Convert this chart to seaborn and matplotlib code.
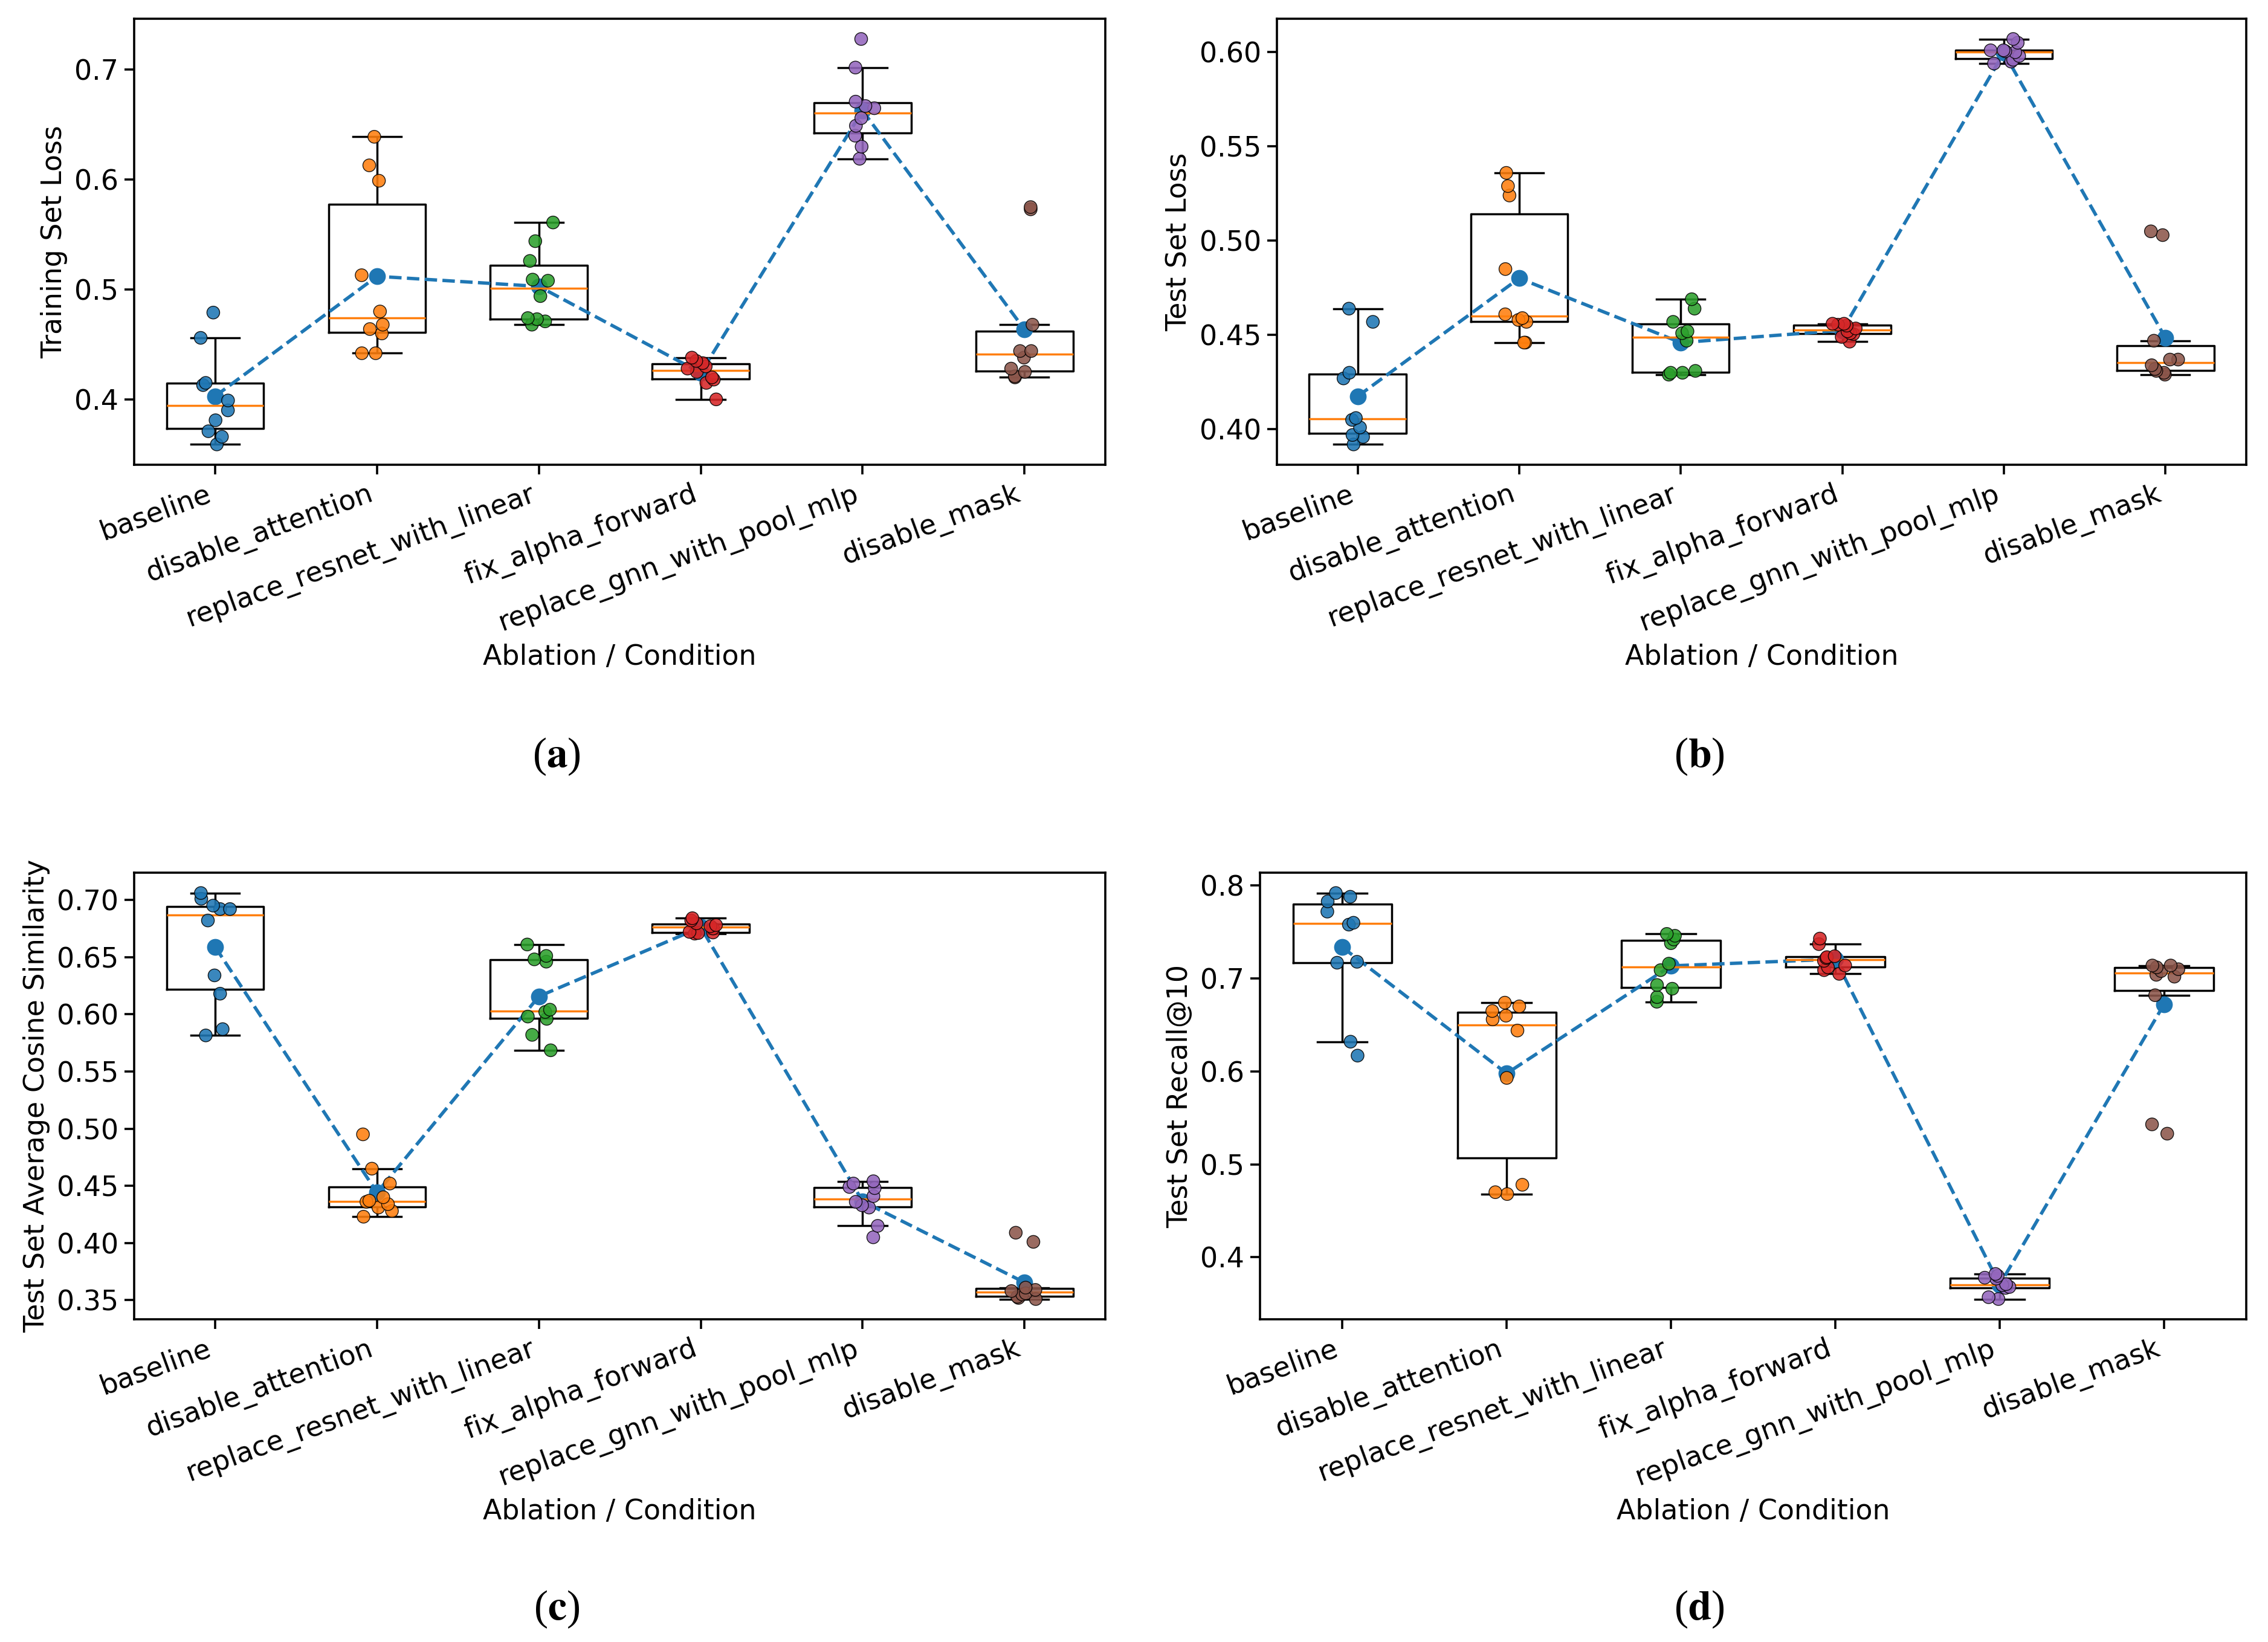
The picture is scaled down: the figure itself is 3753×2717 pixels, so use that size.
import numpy as np
import pandas as pd
import seaborn as sns
import matplotlib.pyplot as plt

conditions = ["baseline", "disable_attention", "replace_resnet_with_linear",
              "fix_alpha_forward", "replace_gnn_with_pool_mlp", "disable_mask"]

# one list per condition (10 runs each)
train_loss = [
    [0.359, 0.366, 0.371, 0.381, 0.390, 0.399, 0.413, 0.415, 0.456, 0.479],
    [0.442, 0.442, 0.460, 0.464, 0.468, 0.480, 0.513, 0.599, 0.613, 0.639],
    [0.468, 0.471, 0.473, 0.474, 0.494, 0.508, 0.509, 0.526, 0.544, 0.561],
    [0.400, 0.415, 0.418, 0.420, 0.425, 0.428, 0.430, 0.433, 0.435, 0.438],
    [0.619, 0.630, 0.640, 0.649, 0.656, 0.665, 0.667, 0.671, 0.702, 0.728],
    [0.420, 0.421, 0.425, 0.428, 0.438, 0.444, 0.444, 0.468, 0.573, 0.575],
]
test_loss = [
    [0.392, 0.396, 0.397, 0.401, 0.405, 0.406, 0.427, 0.430, 0.457, 0.464],
    [0.446, 0.446, 0.457, 0.458, 0.459, 0.461, 0.485, 0.524, 0.529, 0.536],
    [0.429, 0.430, 0.430, 0.431, 0.447, 0.451, 0.452, 0.457, 0.464, 0.469],
    [0.4465, 0.449, 0.4505, 0.451, 0.452, 0.4535, 0.455, 0.4555, 0.456, 0.456],
    [0.594, 0.595, 0.596, 0.598, 0.600, 0.6005, 0.601, 0.601, 0.605, 0.607],
    [0.429, 0.430, 0.431, 0.432, 0.434, 0.437, 0.437, 0.447, 0.503, 0.505],
]
cos_sim = [
    [0.5815, 0.587, 0.618, 0.634, 0.682, 0.692, 0.692, 0.695, 0.701, 0.706],
    [0.423, 0.428, 0.431, 0.434, 0.436, 0.437, 0.440, 0.452, 0.465, 0.495],
    [0.5685, 0.582, 0.596, 0.598, 0.602, 0.604, 0.646, 0.648, 0.651, 0.661],
    [0.6705, 0.671, 0.6715, 0.672, 0.675, 0.677, 0.678, 0.6795, 0.682, 0.684],
    [0.405, 0.415, 0.431, 0.433, 0.436, 0.441, 0.448, 0.449, 0.452, 0.454],
    [0.351, 0.352, 0.353, 0.355, 0.356, 0.358, 0.359, 0.361, 0.401, 0.409],
]
recall10 = [
    [0.617, 0.632, 0.717, 0.718, 0.758, 0.760, 0.772, 0.783, 0.788, 0.792],
    [0.468, 0.470, 0.478, 0.593, 0.644, 0.656, 0.660, 0.665, 0.670, 0.674],
    [0.675, 0.680, 0.689, 0.693, 0.709, 0.716, 0.738, 0.742, 0.746, 0.748],
    [0.705, 0.709, 0.712, 0.714, 0.719, 0.722, 0.723, 0.724, 0.737, 0.743],
    [0.355, 0.357, 0.367, 0.368, 0.370, 0.371, 0.377, 0.378, 0.380, 0.382],
    [0.533, 0.543, 0.682, 0.702, 0.704, 0.708, 0.710, 0.712, 0.714, 0.714],
]

plt.rcParams["font.size"] = 16.5
plt.rcParams["axes.linewidth"] = 1.3
for a in ("xtick", "ytick"):
    plt.rcParams[a + ".major.width"] = 1.3
    plt.rcParams[a + ".major.size"] = 5.8


def panel(ax, values, ylabel):
    df = pd.DataFrame({
        "cond": np.repeat(conditions, [len(v) for v in values]),
        "value": np.concatenate(values),
    })
    sns.boxplot(data=df, x="cond", y="value", order=conditions, width=0.6,
                fill=False, color="black", linewidth=1.25, showfliers=False,
                medianprops={"color": "C1", "linewidth": 1.25}, ax=ax)
    sns.stripplot(data=df, x="cond", y="value", order=conditions, hue="cond",
                  hue_order=conditions, palette="tab10", size=7.6, linewidth=0.5,
                  edgecolor="black", alpha=0.88, jitter=0.1, legend=False, ax=ax)
    sns.pointplot(data=df, x="cond", y="value", order=conditions,
                  estimator="mean", errorbar=None, color="C0", linestyle="--",
                  markers="o", markersize=8.5, linewidth=2.0, ax=ax)
    ax.set_xlabel("Ablation / Condition")
    ax.set_ylabel(ylabel)
    ax.tick_params(axis="x", rotation=20)
    plt.setp(ax.get_xticklabels(), ha="right")


np.random.seed(3)
fig = plt.figure(figsize=(3753 / 200, 2717 / 200), dpi=200)
ax_a = fig.add_axes([0.0592, 0.7170, 0.4282, 0.2716])
ax_b = fig.add_axes([0.5630, 0.7170, 0.4274, 0.2716])
ax_c = fig.add_axes([0.0592, 0.1965, 0.4282, 0.2720])
ax_d = fig.add_axes([0.5556, 0.1965, 0.4348, 0.2720])

panel(ax_a, train_loss, "Training Set Loss")
panel(ax_b, test_loss, "Test Set Loss")
panel(ax_c, cos_sim, "Test Set Average Cosine Similarity")
panel(ax_d, recall10, "Test Set Recall@10")

for x, y, letter in [(0.2454, 0.539, "a"), (0.7493, 0.539, "b"),
                     (0.2454, 0.020, "c"), (0.7493, 0.020, "d")]:
    fig.text(x, y, "(" + r"$\mathbf{" + letter + "}$" + ")", ha="center",
             va="center", fontsize=25, family="Liberation Serif",
             math_fontfamily="stix")

fig.savefig("out.png", dpi=200)
